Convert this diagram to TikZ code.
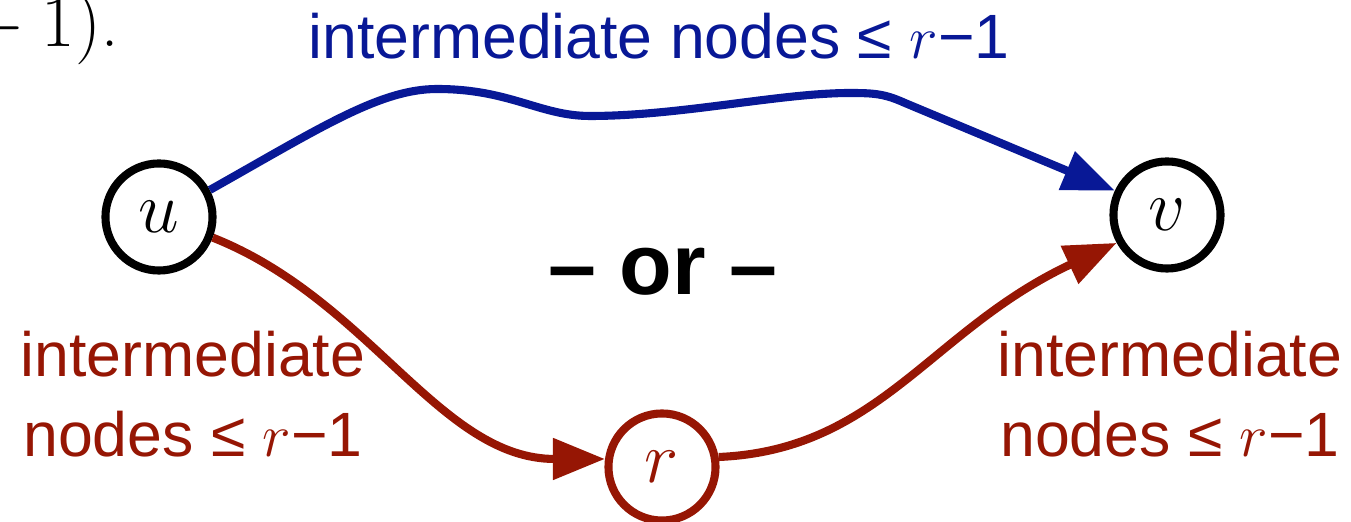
\documentclass[tikz,border=0pt]{standalone}
\usepackage[no-math]{fontspec}
\usepackage{tikz}
\usetikzlibrary{arrows.meta,positioning}
\newfontfamily\labelfont{Liberation Sans}
\definecolor{pathblue}{RGB}{8,24,150}
\definecolor{pathred}{RGB}{150,22,4}
\newcommand{\lblsize}{\fontsize{17.8}{22.8}\selectfont}
\newcommand{\vtxsize}{\fontsize{21}{25}\selectfont}
\newcommand{\orsize}{\fontsize{24.5}{29}\selectfont}
\newcommand{\fragsize}{\fontsize{19.5}{23}\selectfont}
\tikzset{
  vertex/.style = {draw, line width=2.3pt, circle, inner sep=0pt,
                   minimum size=1.07cm, font=\vtxsize},
  route/.style  = {line width=2.3pt, -{Triangle[length=5.2mm,width=4mm]}},
  lbl/.style    = {font=\labelfont\lblsize, inner sep=0pt, align=center},
}

\begin{document}
\begin{tikzpicture}[x=0.01cm,y=-0.01cm]
\useasboundingbox (0,0) rectangle (1351,522);
% ---------- vertices ----------
\node[vertex] (u) at (159,217) {$u$};
\node[vertex] (v) at (1167,215) {$v$};
\node[vertex,draw=pathred,text=pathred] (r) at (662,467) {$r$};
% ---------- direct route ----------
\draw[route,pathblue] (u.28) .. controls (320,128) and (380,89) .. (437,89)
  .. controls (510,89) and (540,116) .. (590,116)
  .. controls (680,116) and (780,93) .. (850,93)
  .. controls (875,93) and (885,94) .. (905,103) -- (v.155);
% ---------- route via r ----------
\draw[route,pathred] (u.-21) .. controls (370,300) and (440,459) .. (r.172);
\draw[route,pathred] (r.10) .. controls (880,450) and (930,330) .. (v.209);
% ---------- labels ----------
\node[lbl,text=pathblue,anchor=base] (toplbl) at (659,59)
  {intermediate nodes ≤ $r$−1};
\node[lbl,text=pathred,anchor=base] (leftlbl) at (193,457)
  {intermediate\\nodes ≤ $r$−1};
\node[lbl,text=pathred,anchor=base] (rightlbl) at (1170,457)
  {intermediate\\nodes ≤ $r$−1};
\node[font=\labelfont\orsize\bfseries,inner sep=0pt,anchor=base] (orlbl) at (663,295)
  {– or –};
\node[font=\fragsize,inner sep=0pt,anchor=base west] (prevtext) at (-48,47)
  {${}-1)$.};
\end{tikzpicture}
\end{document}
